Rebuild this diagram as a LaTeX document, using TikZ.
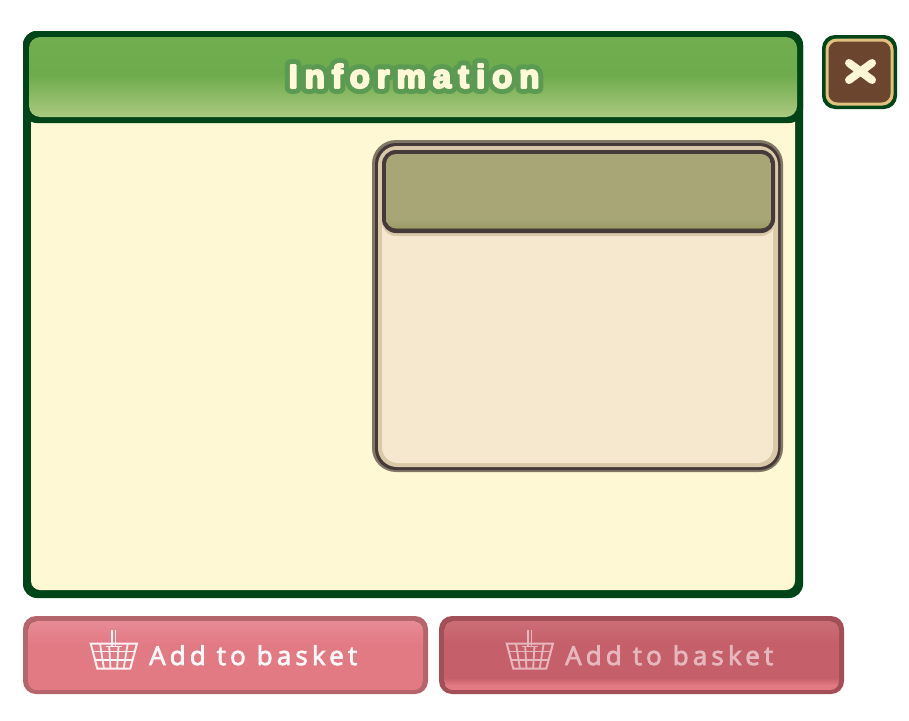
\documentclass[tikz,border=0pt]{standalone}
\usepackage{fontspec}
\setmainfont{Open Sans}
\newfontfamily\titleouter[FakeBold=36,LetterSpace=21]{Liberation Sans Bold}
\newfontfamily\titleinner[FakeBold=6,LetterSpace=21]{Liberation Sans Bold}
\newfontfamily\btnfont[FakeBold=3,LetterSpace=16]{Open Sans}
\definecolor{pgreen}{HTML}{004517}
\definecolor{cream}{HTML}{FFF8D4}
\definecolor{hgreenA}{HTML}{72AE50}
\definecolor{hgreenB}{HTML}{6DAB4C}
\definecolor{hgreenC}{HTML}{ABC97F}
\definecolor{titleedge}{HTML}{5B9A52}
\definecolor{titlefill}{HTML}{FFF9D8}
\definecolor{brownx}{HTML}{6B452E}
\definecolor{tanx}{HTML}{E2C07F}
\definecolor{boxgray}{HTML}{827666}
\definecolor{boxdark}{HTML}{45393A}
\definecolor{boxtan}{HTML}{D9C9A8}
\definecolor{boxfill}{HTML}{F6E8CF}
\definecolor{olive}{HTML}{A8A676}
\definecolor{oliveB}{HTML}{9A9A66}
\definecolor{btnA}{HTML}{B5666C}
\definecolor{btnB}{HTML}{E27A84}
\definecolor{btnC}{HTML}{E78B94}
\definecolor{btnD}{HTML}{A24F57}
\definecolor{btnE}{HTML}{C55F69}
\definecolor{btnF}{HTML}{CC6D76}
\definecolor{btntextoff}{HTML}{E6B8BE}
\tikzset{
  basketline/.style={line width=1.8pt,line cap=butt},
}
\newcommand{\basket}[2]{%
  \begin{scope}[xshift=#1pt,draw=#2,basketline]
    \draw[line width=2pt] (90.7,643.5) -- (137,643.5) -- (130.3,668.5) -- (97.3,668.5) -- cycle;
    \draw (112.2,630) -- (112.2,646) (115.5,630) -- (115.5,646);
    \draw[line width=1.2pt] (106,646.5) -- (122,646.5);
    \draw (92.9,651.5) -- (134.9,651.5) (94.9,660) -- (132.9,660);
    \draw (100,643.5) -- (103.9,668.5) (109.2,646.5) -- (110.5,668.5) (118.5,646.5) -- (117.1,668.5) (127.7,643.5) -- (123.7,668.5);
  \end{scope}}
\begin{document}
\begin{tikzpicture}[x=1pt,y=-1pt]
\useasboundingbox (0,0) rectangle (909,720);
\fill[white] (0,0) rectangle (909,720);
% main panel
\fill[pgreen,rounded corners=14pt] (23,31) rectangle (803,598);
\fill[cream,rounded corners=9pt] (31,90) rectangle (795,590);
\fill[pgreen,rounded corners=14pt] (23,31) rectangle (803,123);
\begin{scope}
  \clip[rounded corners=11pt] (29,37) rectangle (797,117);
  \fill[top color=hgreenA,bottom color=hgreenB] (29,37) rectangle (797,74);
  \fill[top color=hgreenB,bottom color=hgreenC] (29,74) rectangle (797,117);
\end{scope}
\begin{scope}[line join=round]
\node[text=titleedge,font=\titleouter\fontsize{33}{33}\selectfont,inner sep=0] at (414,76) {Information};
\node (title) [text=titlefill,font=\titleinner\fontsize{33}{33}\selectfont,inner sep=0] at (414,76) {Information};
\end{scope}
% close button
\fill[pgreen,rounded corners=13pt] (822,35) rectangle (897,109);
\fill[tanx,rounded corners=11pt] (825.5,38.5) rectangle (893.5,105.5);
\fill[brownx,rounded corners=9pt] (828.5,41.5) rectangle (890.5,102.5);
\draw[cream,line width=8pt,line cap=round] (849,63) -- (872,80) (872,63) -- (849,80);
% info box
\fill[boxgray,rounded corners=24pt] (372,140) rectangle (783,472);
\fill[boxdark,rounded corners=21pt] (375,143) rectangle (780.5,470);
\fill[boxtan,rounded corners=19pt] (378,146) rectangle (778,467);
\fill[boxfill,rounded corners=16pt] (382,150) rectangle (773,463);
\fill[boxtan,rounded corners=14pt] (382,150) rectangle (775,236);
\fill[boxdark,rounded corners=14pt] (382,150) rectangle (775,233);
\begin{scope}
  \clip[rounded corners=10pt] (386,154) rectangle (771,228.5);
  \fill[olive] (386,154) rectangle (771,229);
  \fill[top color=olive,bottom color=oliveB] (386,218) rectangle (771,229);
\end{scope}
% button on
\fill[btnA,rounded corners=13pt] (23,616) rectangle (428,694);
\begin{scope}
  \clip[rounded corners=9pt] (28,621) rectangle (423,690);
  \fill[btnB] (28,621) rectangle (423,690);
  \fill[top color=btnC,bottom color=btnB] (28,621) rectangle (423,644);
\end{scope}
\basket{0}{white!90!btnB}
\node (btnon) [text=white!95!btnB,font=\btnfont\fontsize{26}{26}\selectfont,inner sep=0,anchor=base west] at (149,665) {Add to basket};
% button off
\fill[btnD,rounded corners=13pt] (439,616) rectangle (844,694);
\begin{scope}
  \clip[rounded corners=9pt] (444,621) rectangle (839,690);
  \fill[btnE] (444,621) rectangle (839,690);
  \fill[top color=btnF,bottom color=btnE] (444,621) rectangle (839,644);
  \fill[top color=btnE,bottom color=btnB] (444,678) rectangle (839,685);
  \fill[btnB] (444,685) rectangle (839,690);
\end{scope}
\basket{416}{btntextoff}
\node (btnoff) [text=btntextoff,font=\btnfont\fontsize{26}{26}\selectfont,inner sep=0,anchor=base west] at (565,665) {Add to basket};
\end{tikzpicture}
\end{document}
